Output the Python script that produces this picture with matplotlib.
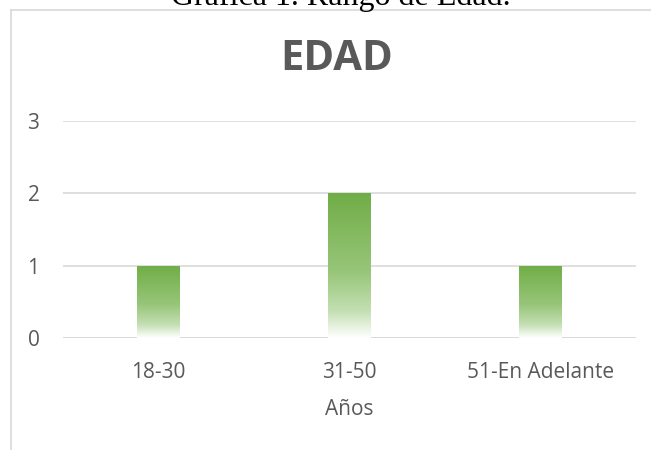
import numpy as np
import matplotlib.pyplot as plt
from matplotlib.colors import LinearSegmentedColormap
from matplotlib.lines import Line2D

categorias = ["18-30", "31-50", "51-En Adelante"]
valores = [1, 2, 1]
y_ticks = [0, 1, 2, 3]

plt.rcParams['font.family'] = ['Open Sans', 'DejaVu Sans']

fig = plt.figure(figsize=(6.51, 4.5), dpi=100)
ax = fig.add_axes([63 / 651, 1 - 338 / 450, 573 / 651, 217 / 450])

# degradado verde de arriba hacia abajo
cmap = LinearSegmentedColormap.from_list(
    "verde", [(0.0, "#ffffff"), (0.18, "#c5e0b4"), (0.45, "#98c67a"), (1.0, "#70ad47")])
grad = np.linspace(0, 1, 256).reshape(-1, 1)

x = np.arange(len(categorias))
ancho = 0.225
bars = ax.bar(x, valores, width=ancho, color="none", zorder=3)
for b in bars:
    x0, y0 = b.get_x(), b.get_y()
    w, h = b.get_width(), b.get_height()
    im = ax.imshow(grad, extent=[x0, x0 + w, y0, y0 + h], origin="lower",
                   cmap=cmap, aspect="auto", zorder=3)
    im.set_clip_path(b)

ax.set_xlim(-0.5, len(categorias) - 0.5)
ax.set_ylim(0, 3)
ax.set_yticks(y_ticks)
ax.set_xticks(x)
ax.set_xticklabels(categorias)
ax.yaxis.grid(True, color="#d9d9d9", linewidth=1.2)
ax.set_axisbelow(True)
for s in ["top", "right", "left", "bottom"]:
    ax.spines[s].set_visible(False)
ax.axhline(0, color="#d9d9d9", linewidth=1.2, zorder=2)
ax.tick_params(axis="both", length=0, labelsize=15, colors="#595959")
ax.tick_params(axis="x", pad=17)
ax.tick_params(axis="y", pad=17)
ax.set_xlabel("Años", fontsize=15, color="#595959", labelpad=11.5)

fig.text(337 / 651, 1 - 60 / 450, "EDAD", ha="center", va="center",
         fontsize=30, fontweight="bold", color="#595959")

# marco del gráfico
fig.add_artist(Line2D([11 / 651, 11 / 651], [0, 1 - 10 / 450], color="#d9d9d9",
                      linewidth=1.2, transform=fig.transFigure))
fig.add_artist(Line2D([11 / 651, 1], [1 - 10 / 450, 1 - 10 / 450], color="#d9d9d9",
                      linewidth=1.2, transform=fig.transFigure))

fig.text(341 / 651, 1 - 5.5 / 450, "Gráfica 1. Rango de Edad.", ha="center",
         va="baseline", fontsize=23, family=["Liberation Serif"], color="#000000")

fig.savefig("out.png", dpi=100)
